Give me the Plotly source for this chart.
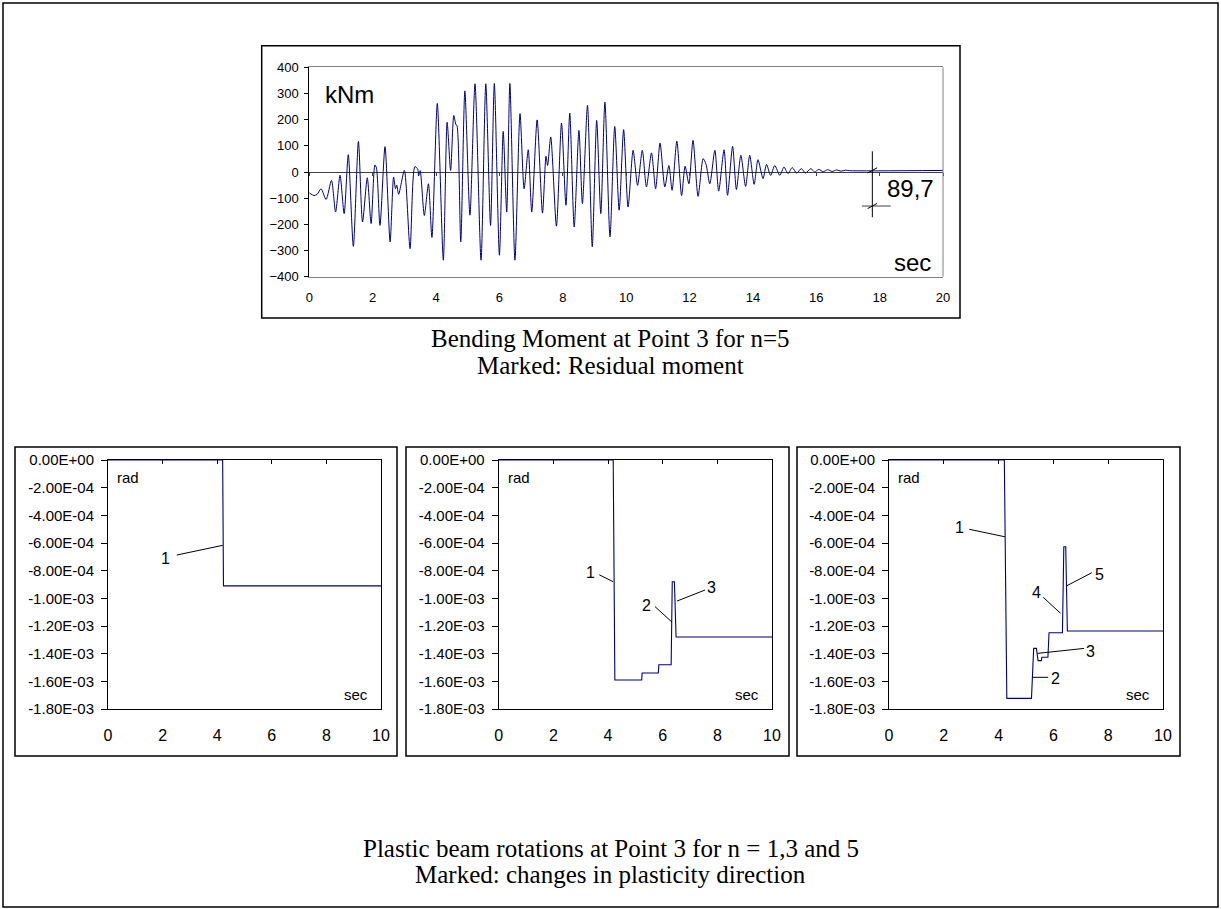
import plotly.graph_objects as go

W, H = 1221, 909

# ---------------- data ----------------
# Bending moment at point 3 for n=5 (local extremes)
moment_t = [0.00, 0.15, 0.25, 0.37, 0.53, 0.70, 0.83, 0.97, 1.10, 1.23, 1.39, 1.55, 1.68, 1.83, 1.95,
            2.07, 2.12, 2.23, 2.39, 2.55, 2.66, 2.72, 2.76, 2.82, 3.00, 3.18, 3.33, 3.42, 3.45, 3.50,
            3.63, 3.76, 3.87, 4.04, 4.23, 4.35, 4.46, 4.56, 4.63, 4.66, 4.78, 4.91, 5.07, 5.23, 5.42,
            5.57, 5.72, 5.84, 6.00, 6.12, 6.23, 6.33, 6.49, 6.65, 6.78, 6.91, 7.02, 7.19, 7.36, 7.47,
            7.52, 7.62, 7.80, 7.96, 8.10, 8.22, 8.36, 8.51, 8.62, 8.78, 8.93, 9.07, 9.20, 9.33, 9.49,
            9.64, 9.78, 9.92, 10.06, 10.22, 10.36, 10.51, 10.64, 10.80, 10.93, 11.07, 11.22, 11.35,
            11.45, 11.60, 11.75, 11.86, 11.98, 12.11, 12.27, 12.43, 12.52, 12.64, 12.80, 12.92, 13.09,
            13.20, 13.36, 13.48, 13.62, 13.77, 13.90, 14.04, 14.16, 14.32, 14.43, 14.56, 14.69, 14.85,
            14.98, 15.11, 15.24, 15.38, 15.53, 15.66, 15.83, 15.95, 16.08, 16.22, 16.36, 16.50, 16.64,
            16.78, 16.92, 17.05, 20.00]
moment_kNm = [-80, -90, -85, -64, -105, -32, -153, -12, -159, 66, -284, 117, -191, -22, -197,
              27, 15, -204, 97, -267, -19, -64, -50, -85, 6, -293, 20, 12, -15, 5,
              -166, -45, -250, 262, -337, 190, 6, 216, 180, 178, -267, 310, -165, 337, -337,
              337, -204, 338, -318, 155, -153, 338, -337, 223, -64, 85, -153, 199, -157, 60,
              25, 134, -207, 187, -127, 225, -210, 159, -121, 255, -286, 197, -159, 267, -248,
              174, -146, 162, -134, 83, -51, 83, -57, 73, -64, 111, -57, 25,
              -70, 118, -90, 22, -45, 121, -93, 51, 30, -45, 83, -73, 85,
              -89, 98, -67, 64, -55, 64, -47, 47, -25, 29, -13, 25, -13,
              19, -6, 17, -4, 13, -4, 13, 0, 10, 1, 9, 2, 8,
              3, 7, 5, 6]
residual_t = 17.77
residual_top = 79
residual_bottom = -173
residual_mark = -130
residual_label = "89,7"

# Plastic beam rotations at point 3 (rad)
rot1_t = [0, 4.20, 4.23, 10]
rot1_rad = [0, 0, -9.1e-4, -9.1e-4]

rot3_t = [0, 4.19, 4.25, 5.23, 5.25, 5.84, 5.86, 6.31, 6.35, 6.43, 6.49, 10]
rot3_rad = [0, 0, -1.59e-3, -1.59e-3, -1.54e-3, -1.54e-3, -1.48e-3, -1.48e-3,
            -8.8e-4, -8.8e-4, -1.28e-3, -1.28e-3]

rot5_t = [0, 4.21, 4.30, 5.20, 5.28, 5.38, 5.44, 5.56, 5.58, 5.80, 5.84, 6.33, 6.38, 6.45, 6.51, 10]
rot5_rad = [0, 0, -1.723e-3, -1.723e-3, -1.362e-3, -1.362e-3, -1.45e-3, -1.45e-3,
            -1.426e-3, -1.426e-3, -1.249e-3, -1.249e-3, -6.27e-4, -6.27e-4, -1.236e-3, -1.236e-3]

moment_ticks = [-400, -300, -200, -100, 0, 100, 200, 300, 400]
rot_ticks = [0, -2e-4, -4e-4, -6e-4, -8e-4, -1e-3, -1.2e-3, -1.4e-3, -1.6e-3, -1.8e-3]
rot_ticktext = [f"{v:.2E}" for v in rot_ticks]

# marked changes in plasticity direction: (label, label_x, label_y, line_x0, line_y0, line_x1, line_y1)
marks_n1 = [("1", 2.11, -7.1e-4, 2.52, -6.87e-4, 4.20, -6.17e-4)]
marks_n3 = [("1", 3.37, -8.15e-4, 3.68, -8.3e-4, 4.19, -8.8e-4),
            ("2", 5.40, -1.053e-3, 5.72, -1.06e-3, 6.33, -1.17e-3),
            ("3", 7.79, -9.23e-4, 7.55, -9.4e-4, 6.52, -1.02e-3)]
marks_n5 = [("1", 2.57, -4.87e-4, 2.93, -5.01e-4, 4.23, -5.55e-4),
            ("2", 6.09, -1.576e-3, 5.81, -1.571e-3, 5.23, -1.571e-3),
            ("3", 7.36, -1.381e-3, 7.12, -1.362e-3, 5.42, -1.398e-3),
            ("4", 5.39, -9.6e-4, 5.63, -9.93e-4, 6.26, -1.108e-3),
            ("5", 7.68, -8.27e-4, 7.40, -8.15e-4, 6.49, -9.09e-4)]

# ---------------- figure ----------------
NAVY = "#000080"
SANS = "Liberation Sans, Arial, sans-serif"
SERIF = "Liberation Serif, Times New Roman, serif"


def px_x(p):
    return p / W


def px_y(p):
    return 1 - p / H


fig = go.Figure()

fig.add_trace(go.Scatter(x=moment_t, y=moment_kNm, mode="lines", xaxis="x", yaxis="y",
                         line=dict(color=NAVY, width=1, shape="spline", smoothing=0.7),
                         hoverinfo="skip"))
# dummy trace for the tick axis on the zero line
fig.add_trace(go.Scatter(x=[0], y=[0], mode="lines", xaxis="x5", yaxis="y",
                         line=dict(color="rgba(0,0,0,0)"), hoverinfo="skip"))

for i, (tt, rr) in enumerate([(rot1_t, rot1_rad), (rot3_t, rot3_rad), (rot5_t, rot5_rad)]):
    xa = f"x{i + 2}"
    ya = f"y{i + 2}"
    fig.add_trace(go.Scatter(x=tt, y=rr, mode="lines", xaxis=xa, yaxis=ya,
                             line=dict(color=NAVY, width=1.1), hoverinfo="skip"))
    fig.add_trace(go.Scatter(x=[0], y=[0], mode="lines", xaxis=f"x{i + 6}", yaxis=ya,
                             line=dict(color="rgba(0,0,0,0)"), hoverinfo="skip"))

top_y0, top_y1 = px_y(276.7), px_y(67.3)
layout = dict(
    width=W, height=H, margin=dict(l=0, r=0, t=0, b=0, autoexpand=False),
    paper_bgcolor="white", plot_bgcolor="white", showlegend=False,
    xaxis=dict(domain=[px_x(309.3), px_x(943)], range=[0, 20], dtick=2, tick0=0,
               showgrid=False, zeroline=False, showline=True, linecolor="#808080", mirror=True,
               ticks="outside", ticklen=9, tickcolor="rgba(0,0,0,0)", automargin=False,
               tickfont=dict(family=SANS, size=13, color="black"), anchor="y"),
    yaxis=dict(domain=[top_y0, top_y1], range=[-400, 400], tickvals=moment_ticks,
               showgrid=False, zeroline=True, zerolinecolor="#404040", zerolinewidth=1,
               showline=True, linecolor="black", ticks="outside", ticklen=4, tickcolor="black",
               automargin=False, ticklabelstandoff=3,
               tickfont=dict(family=SANS, size=13, color="black"), anchor="x"),
    xaxis5=dict(overlaying="x", anchor="free", position=(top_y0 + top_y1) / 2, range=[0, 20],
                dtick=2, tick0=0, showticklabels=False, showline=False, showgrid=False,
                zeroline=False, ticks="outside", ticklen=3, tickcolor="#404040", automargin=False),
)

bottom_x = [(108, 381), (498.7, 772), (889, 1163)]
for i, (a, b) in enumerate(bottom_x):
    n = i + 2
    layout[f"xaxis{n}"] = dict(domain=[px_x(a), px_x(b)], range=[0, 10], dtick=2, tick0=0,
                               showgrid=False, zeroline=False, showline=True, linecolor="black",
                               mirror=True, ticks="outside", ticklen=12, automargin=False,
                               tickcolor="rgba(0,0,0,0)", anchor=f"y{n}",
                               tickfont=dict(family=SANS, size=16, color="black"))
    layout[f"yaxis{n}"] = dict(domain=[px_y(709), px_y(460)], range=[-1.8e-3, 0],
                               tickvals=rot_ticks, ticktext=rot_ticktext, automargin=False,
                               showgrid=False, zeroline=False, showline=True, linecolor="black",
                               mirror=True, ticks="outside", ticklen=6, tickcolor="black",
                               anchor=f"x{n}", ticklabelstandoff=4,
                               tickfont=dict(family=SANS, size=15, color="black"))
    layout[f"xaxis{n + 4}"] = dict(overlaying=f"x{n}", anchor=f"y{n}", side="top", range=[0, 10],
                                   dtick=2, tick0=0, showticklabels=False, showline=False,
                                   showgrid=False, zeroline=False, ticks="inside", ticklen=4,
                                   tickcolor="black", automargin=False)

fig.update_layout(**layout)

shapes = []
# outer frame and chart boxes (paper coordinates)
for (x0, y0, x1, y1) in [(3, 3, 1218, 907), (261.7, 45.7, 960, 318),
                         (15, 447, 397, 756), (406, 447, 789, 756), (797, 447, 1180, 756)]:
    shapes.append(dict(type="rect", xref="paper", yref="paper", x0=px_x(x0), x1=px_x(x1),
                       y0=px_y(y1), y1=px_y(y0), line=dict(color="black", width=1.5),
                       fillcolor="rgba(0,0,0,0)", layer="below"))
# gray right border on top chart
shapes.append(dict(type="line", xref="x domain", yref="y domain", x0=1, x1=1, y0=0, y1=1,
                   line=dict(color="#808080", width=1)))

# residual moment dimension
shapes.append(dict(type="line", xref="x", yref="y", x0=residual_t, x1=residual_t,
                   y0=residual_bottom, y1=residual_top, line=dict(color="black", width=1)))
shapes.append(dict(type="line", xref="x", yref="y", x0=residual_t - 0.33, x1=residual_t + 0.58,
                   y0=residual_mark, y1=residual_mark, line=dict(color="#404040", width=1)))
for yv in (moment_kNm[-1], residual_mark):
    shapes.append(dict(type="line", xref="x", yref="y", x0=residual_t - 0.15, x1=residual_t + 0.15,
                       y0=yv - 10, y1=yv + 10, line=dict(color="black", width=1)))

annotations = [
    dict(xref="x domain", yref="y domain", x=0.021, y=0.868, text="kNm", showarrow=False,
         xanchor="left", yanchor="middle", font=dict(family=SANS, size=24, color="black")),
    dict(xref="x domain", yref="y domain", x=0.984, y=0.07, text="sec", showarrow=False,
         xanchor="right", yanchor="middle", font=dict(family=SANS, size=24, color="black")),
    dict(xref="x", yref="y", x=18.98, y=-62, text=residual_label, showarrow=False,
         xanchor="center", yanchor="middle", font=dict(family=SANS, size=24, color="black")),
    dict(xref="paper", yref="paper", x=0.5, y=px_y(339), text="Bending Moment at Point 3 for n=5",
         showarrow=False, xanchor="center", yanchor="middle",
         font=dict(family=SERIF, size=25, color="black")),
    dict(xref="paper", yref="paper", x=0.5, y=px_y(365), text="Marked: Residual moment",
         showarrow=False, xanchor="center", yanchor="middle",
         font=dict(family=SERIF, size=25, color="black")),
    dict(xref="paper", yref="paper", x=0.5, y=px_y(848),
         text="Plastic beam rotations at Point 3 for n = 1,3 and 5",
         showarrow=False, xanchor="center", yanchor="middle",
         font=dict(family=SERIF, size=25, color="black")),
    dict(xref="paper", yref="paper", x=0.5, y=px_y(874),
         text="Marked: changes in plasticity direction",
         showarrow=False, xanchor="center", yanchor="middle",
         font=dict(family=SERIF, size=25, color="black")),
]

for i, marks in enumerate([marks_n1, marks_n3, marks_n5]):
    n = i + 2
    xa, ya = f"x{n}", f"y{n}"
    annotations.append(dict(xref=f"{xa} domain", yref=f"{ya} domain", x=0.026, y=0.93, text="rad",
                            showarrow=False, xanchor="left", yanchor="middle",
                            font=dict(family=SANS, size=15, color="black")))
    annotations.append(dict(xref=f"{xa} domain", yref=f"{ya} domain", x=0.96, y=0.06, text="sec",
                            showarrow=False, xanchor="right", yanchor="middle",
                            font=dict(family=SANS, size=15, color="black")))
    for (lab, lx, ly, x0, y0, x1, y1) in marks:
        annotations.append(dict(xref=xa, yref=ya, x=lx, y=ly, text=lab, showarrow=False,
                                xanchor="center", yanchor="middle",
                                font=dict(family=SANS, size=16, color="black")))
        shapes.append(dict(type="line", xref=xa, yref=ya, x0=x0, y0=y0, x1=x1, y1=y1,
                           line=dict(color="black", width=1)))

fig.update_layout(shapes=shapes, annotations=annotations)

fig.write_html("out.html", config={"displayModeBar": False},
               post_script="document.body.style.margin='0';document.body.style.overflow='hidden';")
